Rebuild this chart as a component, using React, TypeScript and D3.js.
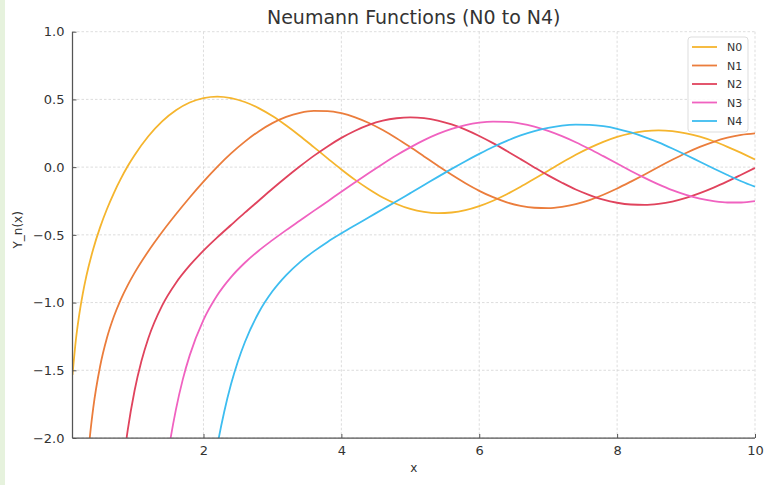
import { useEffect, useRef } from 'react';
import * as d3 from 'd3';

// Neumann (Bessel Y) function samples as [x, y]
const n0: [number, number][] = [
  [0.1, -1.534], [0.15, -1.271], [0.2, -1.081], [0.25, -0.932], [0.3, -0.807], [0.4, -0.606],
  [0.5, -0.445], [0.6, -0.309], [0.7, -0.191], [0.8, -0.087], [0.9, 0.006], [1.0, 0.088],
  [1.2, 0.228], [1.4, 0.338], [1.6, 0.420], [1.8, 0.477], [2.0, 0.510], [2.2, 0.521],
  [2.4, 0.510], [2.6, 0.481], [2.8, 0.436], [3.0, 0.377], [3.2, 0.307], [3.4, 0.230],
  [3.6, 0.148], [3.8, 0.065], [4.0, -0.017], [4.2, -0.094], [4.4, -0.163], [4.6, -0.224],
  [4.8, -0.272], [5.0, -0.309], [5.2, -0.331], [5.4, -0.340], [5.6, -0.335], [5.8, -0.318],
  [6.0, -0.288], [6.2, -0.248], [6.4, -0.200], [6.6, -0.145], [6.8, -0.086], [7.0, -0.026],
  [7.2, 0.034], [7.4, 0.091], [7.6, 0.142], [7.8, 0.187], [8.0, 0.224], [8.2, 0.250],
  [8.4, 0.266], [8.6, 0.272], [8.8, 0.266], [9.0, 0.250], [9.2, 0.225], [9.4, 0.191],
  [9.6, 0.150], [9.8, 0.105], [10.0, 0.056],
];

const n1: [number, number][] = [
  [0.25, -2.705], [0.3, -2.293], [0.35, -2.001], [0.4, -1.781], [0.5, -1.472], [0.6, -1.260],
  [0.7, -1.103], [0.8, -0.978], [0.9, -0.873], [1.0, -0.781], [1.2, -0.621], [1.4, -0.479],
  [1.6, -0.348], [1.8, -0.224], [2.0, -0.107], [2.2, 0.002], [2.4, 0.101], [2.6, 0.188],
  [2.8, 0.264], [3.0, 0.325], [3.2, 0.371], [3.4, 0.401], [3.6, 0.415], [3.8, 0.414],
  [4.0, 0.398], [4.2, 0.368], [4.4, 0.326], [4.6, 0.274], [4.8, 0.214], [5.0, 0.148],
  [5.2, 0.079], [5.4, 0.010], [5.6, -0.057], [5.8, -0.119], [6.0, -0.175], [6.2, -0.222],
  [6.4, -0.260], [6.6, -0.286], [6.8, -0.300], [7.0, -0.303], [7.2, -0.293], [7.4, -0.273],
  [7.6, -0.243], [7.8, -0.204], [8.0, -0.158], [8.2, -0.107], [8.4, -0.054], [8.6, 0.001],
  [8.8, 0.054], [9.0, 0.104], [9.2, 0.149], [9.4, 0.187], [9.6, 0.217], [9.8, 0.238],
  [10.0, 0.249],
];

const n2: [number, number][] = [
  [0.7, -2.961], [0.8, -2.359], [0.85, -2.135], [0.9, -1.946], [1.0, -1.651], [1.1, -1.432],
  [1.2, -1.263], [1.4, -1.022], [1.6, -0.855], [1.8, -0.726], [2.0, -0.617], [2.2, -0.519],
  [2.4, -0.427], [2.6, -0.336], [2.8, -0.248], [3.0, -0.160], [3.2, -0.075], [3.4, 0.006],
  [3.6, 0.083], [3.8, 0.153], [4.0, 0.216], [4.2, 0.269], [4.4, 0.312], [4.6, 0.343],
  [4.8, 0.361], [5.0, 0.368], [5.2, 0.362], [5.4, 0.344], [5.6, 0.315], [5.8, 0.277],
  [6.0, 0.230], [6.2, 0.177], [6.4, 0.119], [6.6, 0.059], [6.8, -0.002], [7.0, -0.061],
  [7.2, -0.115], [7.4, -0.165], [7.6, -0.206], [7.8, -0.240], [8.0, -0.263], [8.2, -0.276],
  [8.4, -0.279], [8.6, -0.271], [8.8, -0.254], [9.0, -0.227], [9.2, -0.192], [9.4, -0.151],
  [9.6, -0.105], [9.8, -0.056], [10.0, -0.006],
];

const n3: [number, number][] = [
  [1.4, -2.442], [1.5, -2.073], [1.6, -1.790], [1.7, -1.567], [1.8, -1.390], [2.0, -1.128],
  [2.2, -0.946], [2.4, -0.812], [2.6, -0.706], [2.8, -0.617], [3.0, -0.539], [3.2, -0.465],
  [3.4, -0.394], [3.6, -0.323], [3.8, -0.253], [4.0, -0.182], [4.2, -0.112], [4.4, -0.043],
  [4.6, 0.024], [4.8, 0.088], [5.0, 0.146], [5.2, 0.199], [5.4, 0.245], [5.6, 0.282],
  [5.8, 0.310], [6.0, 0.328], [6.2, 0.336], [6.4, 0.334], [6.6, 0.321], [6.8, 0.299],
  [7.0, 0.268], [7.2, 0.229], [7.4, 0.184], [7.6, 0.134], [7.8, 0.081], [8.0, 0.027],
  [8.2, -0.028], [8.4, -0.079], [8.6, -0.127], [8.8, -0.170], [9.0, -0.205], [9.2, -0.233],
  [9.4, -0.251], [9.6, -0.261], [9.8, -0.261], [10.0, -0.251],
];

const n4: [number, number][] = [
  [2.0, -2.766], [2.2, -2.060], [2.3, -1.808], [2.4, -1.602], [2.5, -1.433], [2.6, -1.293],
  [2.8, -1.075], [3.0, -0.917], [3.2, -0.797], [3.4, -0.701], [3.6, -0.622], [3.8, -0.552],
  [4.0, -0.489], [4.2, -0.429], [4.4, -0.370], [4.6, -0.311], [4.8, -0.252], [5.0, -0.192],
  [5.2, -0.132], [5.4, -0.072], [5.6, -0.013], [5.8, 0.044], [6.0, 0.098], [6.2, 0.149],
  [6.4, 0.194], [6.6, 0.234], [6.8, 0.266], [7.0, 0.290], [7.2, 0.307], [7.4, 0.314],
  [7.6, 0.312], [7.8, 0.302], [8.0, 0.283], [8.2, 0.256], [8.4, 0.222], [8.6, 0.183],
  [8.8, 0.138], [9.0, 0.090], [9.2, 0.040], [9.4, -0.010], [9.6, -0.058], [9.8, -0.104],
  [10.0, -0.145],
];

const seriesNames = ['N0', 'N1', 'N2', 'N3', 'N4'];
const seriesData = [n0, n1, n2, n3, n4];
const seriesColors = ['#f5b52e', '#eb7d3c', '#e0435d', '#f062c0', '#3dbdf0'];

const xTicks = [2, 4, 6, 8, 10];
const yTicks = [1.0, 0.5, 0.0, -0.5, -1.0, -1.5, -2.0];

const W = 764;
const H = 485;

export default function App() {
  const ref = useRef<SVGSVGElement>(null);

  useEffect(() => {
    if (!ref.current) return;
    const svg = d3.select(ref.current);
    svg.selectAll('*').remove();

    const font = 'DejaVu Sans, sans-serif';
    const left = 72.5, right = 755, top = 31.7, bottom = 438;

    const x = d3.scaleLinear().domain([0.1, 10]).range([left, right]);
    const y = d3.scaleLinear().domain([-2, 1]).range([bottom, top]);

    // page background + green strip at the left edge
    svg.append('rect').attr('width', W).attr('height', H).attr('fill', '#fff');
    svg.append('rect').attr('width', 5).attr('height', H).attr('fill', '#e6f2dd');

    // grid
    const grid = svg.append('g')
      .attr('stroke', '#d4d4d4')
      .attr('stroke-width', 0.8)
      .attr('stroke-dasharray', '2.5,2');
    xTicks.forEach(t => {
      grid.append('line')
        .attr('x1', x(t)).attr('x2', x(t))
        .attr('y1', top).attr('y2', bottom);
    });
    yTicks.forEach(t => {
      grid.append('line')
        .attr('x1', left).attr('x2', right)
        .attr('y1', y(t)).attr('y2', y(t));
    });

    // clip for curves
    svg.append('defs').append('clipPath').attr('id', 'plotClip')
      .append('rect')
      .attr('x', left).attr('y', top)
      .attr('width', right - left).attr('height', bottom - top);

    const line = d3.line<[number, number]>()
      .x(d => x(d[0]))
      .y(d => y(d[1]))
      .curve(d3.curveMonotoneX);

    const curves = svg.append('g').attr('clip-path', 'url(#plotClip)');
    seriesData.forEach((data, i) => {
      curves.append('path')
        .datum(data)
        .attr('fill', 'none')
        .attr('stroke', seriesColors[i])
        .attr('stroke-width', 1.8)
        .attr('d', line);
    });

    // axes (left + bottom spines, inward ticks)
    const xAxis = d3.axisBottom(x)
      .tickValues(xTicks)
      .tickFormat(d => String(d))
      .tickSize(-4)
      .tickPadding(8);
    const gx = svg.append('g')
      .attr('transform', `translate(0,${bottom})`)
      .call(xAxis);
    gx.select('.domain').attr('stroke', '#555').attr('stroke-width', 1.25).attr('d', `M${left},0H${right}`);

    const yAxis = d3.axisLeft(y)
      .tickValues(yTicks)
      .tickFormat(d => d3.format('.1f')(d as number).replace('-', '\u2212'))
      .tickSize(-4)
      .tickPadding(8);
    const gy = svg.append('g')
      .attr('transform', `translate(${left},0)`)
      .call(yAxis);
    gy.select('.domain').attr('stroke', '#555').attr('stroke-width', 1.25).attr('d', `M0,${top}V${bottom}`);

    [gx, gy].forEach(g => {
      g.selectAll('.tick line').attr('stroke', '#555').attr('stroke-width', 1);
      g.selectAll('.tick text')
        .attr('fill', '#333')
        .style('font-family', font)
        .style('font-size', '13px');
    });

    // title and axis labels
    svg.append('text')
      .attr('x', (left + right) / 2).attr('y', 24)
      .attr('text-anchor', 'middle')
      .attr('fill', '#333')
      .style('font-family', font)
      .style('font-size', '19px')
      .text('Neumann Functions (N0 to N4)');

    svg.append('text')
      .attr('x', (left + right) / 2).attr('y', 472)
      .attr('text-anchor', 'middle')
      .attr('fill', '#333')
      .style('font-family', font)
      .style('font-size', '12px')
      .text('x');

    svg.append('text')
      .attr('transform', `translate(22,${(top + bottom) / 2 - 5}) rotate(-90)`)
      .attr('text-anchor', 'middle')
      .attr('fill', '#333')
      .style('font-family', font)
      .style('font-size', '12px')
      .text('Y_n(x)');

    // legend
    const lg = svg.append('g').attr('transform', 'translate(688,37)');
    lg.append('rect')
      .attr('width', 60).attr('height', 95)
      .attr('rx', 3)
      .attr('fill', 'rgba(255,255,255,0.85)')
      .attr('stroke', '#ddd');
    seriesNames.forEach((name, i) => {
      const yy = 10 + i * 18.5;
      lg.append('line')
        .attr('x1', 4).attr('x2', 29)
        .attr('y1', yy).attr('y2', yy)
        .attr('stroke', seriesColors[i])
        .attr('stroke-width', 1.8);
      lg.append('text')
        .attr('x', 39).attr('y', yy + 4)
        .attr('fill', '#333')
        .style('font-family', font)
        .style('font-size', '11px')
        .text(name);
    });
  }, []);

  return (
    <svg
      ref={ref}
      width={W}
      height={H}
      style={{ position: 'absolute', left: 0, top: 0, display: 'block' }}
    />
  );
}
